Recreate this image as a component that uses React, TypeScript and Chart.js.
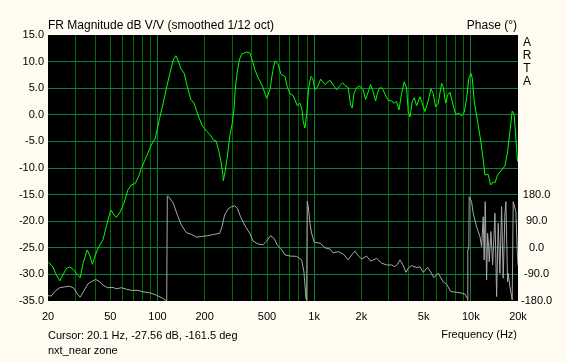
import React, { useEffect, useRef } from 'react';
import { Chart, registerables } from 'chart.js';

Chart.register(...registerables);

// ---- Data ----
const magFreq = [
  20, 21.5, 22.6, 23.8, 24.9, 26.2, 27.5, 28.9, 30.8, 32.1, 33.5, 35.6, 36.9, 38.4, 39.7, 41.7, 44.9, 47.1,
  50.3, 52.0, 54.6, 57.4, 61.1, 64.8, 68.0, 72.1, 75.8, 78.8, 84.8, 91.2, 96.8, 103, 108, 114, 120, 126,
  131, 135, 141, 148, 155, 163, 171, 181, 192, 206, 216, 227, 236, 244, 253, 261, 263, 270, 279, 290, 300,
  308, 314, 323, 333, 344, 371, 389, 405, 419, 440, 469, 497, 522, 543, 562, 590, 614, 651, 673, 701, 735,
  780, 811, 836, 852, 873, 895, 922, 954, 978, 1011, 1046, 1100, 1171, 1261, 1323, 1391, 1460, 1520, 1572,
  1650, 1709, 1750, 1794, 1867, 1959, 2056, 2130, 2213, 2293, 2381, 2468, 2541, 2628, 2718, 2829, 2969,
  3121, 3243, 3360, 3476, 3616, 3757, 3892, 3985, 4086, 4226, 4352, 4508, 4732, 4852, 5093, 5298, 5562,
  5752, 5960, 6192, 6508, 6663, 6902, 7108, 7352, 7606, 7996, 8394, 8732, 9072, 9397, 9722, 10012, 10206,
  10510, 11048, 11596, 11996, 12300, 12908, 13370, 13892, 14244, 14820, 15716, 16496, 17164, 17754, 18366,
  18912, 19590, 19880,
];
const magDb = [
  -27.6, -28.6, -30.1, -31.2, -30.1, -28.9, -28.6, -29.0, -30.1, -30.6, -27.9, -25.4, -26.4, -28.1, -26.7, -25.1, -23.5, -21.0,
  -17.9, -18.5, -19.3, -18.4, -16.6, -14.1, -13.2, -12.9, -11.6, -10.1, -7.9, -5.7, -4.4, -0.7, 1.8, 5.0, 7.8, 10.3,
  11.1, 10.3, 8.7, 7.8, 5.3, 2.9, 2.2, 0.0, -1.9, -3.1, -3.7, -4.7, -4.9, -6.3, -8.5, -11.0, -12.4, -10.7, -7.9, -3.8, -1.6,
  1.2, 5.0, 8.1, 10.3, 11.4, 11.8, 11.6, 10.0, 8.4, 6.9, 5.3, 3.1, 4.7, 8.1, 10.1, 9.4, 7.6, 7.2, 5.3, 3.9, 3.6,
  1.7, 2.2, 0.9, -1.3, -2.5, 0.0, 5.0, 7.2, 6.9, 4.7, 5.1, 6.7, 5.7, 6.5, 5.6, 4.7, 5.5, 6.0, 5.5,
  5.1, 1.8, 1.3, 4.0, 5.1, 5.4, 4.7, 2.9, 4.3, 5.7, 4.3, 2.6, 4.2, 5.1, 5.0, 3.9, 2.7,
  2.6, 2.2, 2.5, 0.9, 4.0, 6.2, 5.0, 0.6, -0.4, 2.5, 3.2, 1.7, 3.4, 2.5, 0.6, 2.2, 4.9,
  4.0, 1.5, 2.2, 5.9, 5.3, 2.2, 3.7, 4.3, 2.5, 0.1, 0.3, -0.2, 0.5, 3.1, 6.9, 7.8, 6.9,
  2.5, -1.3, -5.1, -8.5, -11.3, -11.2, -13.2, -12.6, -12.8, -11.3, -10.4, -9.6, -6.9, -3.2, 0.7,
  0.0, -6.3, -8.8,
];

const phaseFreq = [
  20, 21.0, 22.3, 23.8, 25.6, 27.5, 29.3, 30.8, 32.1, 33.9, 36.0, 37.8, 40.3, 42.8, 44.9, 47.8, 52.0, 54.6,
  58.7, 63.2, 68.0, 75.1, 80.8, 89.1, 98.2, 108, 114.5, 115.5, 117.8, 126, 134, 142, 153, 164, 177, 190,
  210, 232, 249, 258, 268, 282, 296, 311, 323, 339, 360, 388, 407, 438, 471, 494, 527, 554, 581, 616, 651,
  701, 773, 832, 860, 873, 886, 895, 903, 917, 940, 963, 1001, 1100, 1171, 1261, 1323, 1424, 1533, 1650,
  1734, 1821, 1911, 2009, 2162, 2293, 2504, 2696, 2900, 3121, 3277, 3440, 3526, 3668, 3852, 3985, 4188,
  4508, 4732, 4966, 5298, 5481, 5813, 6192, 6663, 7005, 7431, 7914, 8518, 9167, 9482, 9550, 9580, 9700,
  9764, 10115, 10355, 10886, 11428, 11716, 11996, 12172, 12352, 12608, 12796, 12986, 13100, 13432, 13772,
  14038, 14246, 14606, 14952, 15330, 15716, 16092, 16496, 16742, 17164, 17320, 17754, 18366, 18640, 19392,
  19766, 20000,
];
const phaseDeg = [
  -162, -163, -146, -135, -132, -130, -137, -156, -167, -146, -122, -115, -107, -115, -126, -135, -134, -139,
  -135, -140, -144, -144, -149, -152, -160, -171, -180, 175, 173, 151, 111, 77, 51, 46, 36, 38,
  41, 46, 49, 71, 111, 131, 139, 142, 134, 105, 77, 49, 23, 13, 10, 21, 41, 32, 10, -4, -24,
  -28, -29, -41, -81, -126, -171, -178, 158, 139, 83, 49, 19, 15, 0, -4, -17, -13, -21, -41,
  -24, -11, -27, -38, -28, -45, -36, -52, -58, -58, -64, -52, -41, -55, -83, -69, -60,
  -67, -64, -83, -66, -78, -101, -86, -115, -123, -148, -150, -152, -157, -171, -178, -5, -5,
  173, 156, 117, 71, 38, 4, 105, -41, 156, -109, 49, 4, -47, 55, -58,
  32, 117, -165, 83, -86, 139, -103, 111, 156, -115, -86, -131, -176, 156, 122,
  -7, -60,
];

const xGridValues = [
  20, 30, 40, 50, 60, 70, 80, 90, 100, 200, 300, 400, 500, 600, 700, 800, 900,
  1000, 2000, 3000, 4000, 5000, 6000, 7000, 8000, 9000, 10000, 20000,
];
const xLabelValues = [20, 50, 100, 200, 500, 1000, 2000, 5000, 10000, 20000];
const decadeValues = [100, 1000, 10000];
const phaseLabelValues = [-180, -90, 0, 90, 180];

const titleText = 'FR Magnitude dB V/V (smoothed 1/12 oct)';
const phaseTitle = 'Phase (°)';
const brandLetters = ['A', 'R', 'T', 'A'];
const cursorText = 'Cursor: 20.1 Hz, -27.56 dB, -161.5 deg';
const noteText = 'nxt_near zone';
const xTitle = 'Frequency (Hz)';

// ---- Styles ----
const FONT = "'Liberation Sans', Arial, sans-serif";
const BG = '#FFFBF0';
const PLOT_BG = '#000000';
const GRID_MAIN = '#0A8040';
const GRID_MINOR = '#006A00';
const MAG_COLOR = '#00FF00';
const PHASE_COLOR = '#A8A8A8';

function fmtFreq(v: number): string {
  return v >= 1000 ? `${v / 1000}k` : `${v}`;
}

export default function App() {
  const ref = useRef<HTMLCanvasElement>(null);

  useEffect(() => {
    document.body.style.margin = '0';
    document.body.style.background = BG;
    const canvas = ref.current;
    if (!canvas) return;

    const overlay = {
      id: 'artaOverlay',
      beforeDraw(chart: any) {
        const { ctx, chartArea: a, width, height } = chart;
        ctx.save();
        ctx.fillStyle = BG;
        ctx.fillRect(0, 0, width, height);
        ctx.fillStyle = PLOT_BG;
        ctx.fillRect(a.left, a.top, a.right - a.left, a.bottom - a.top);
        ctx.restore();
      },
      afterDraw(chart: any) {
        const { ctx, chartArea: a } = chart;
        ctx.save();
        ctx.fillStyle = '#000';
        ctx.font = `12px ${FONT}`;
        ctx.textBaseline = 'alphabetic';
        ctx.textAlign = 'left';
        ctx.fillText(titleText, a.left, 29);
        ctx.textAlign = 'right';
        ctx.fillText(phaseTitle, a.right - 1, 29);
        ctx.textAlign = 'center';
        ctx.textBaseline = 'middle';
        brandLetters.forEach((ch, i) => ctx.fillText(ch, a.right + 9, 43 + i * 12.8));
        ctx.font = `11px ${FONT}`;
        ctx.textBaseline = 'alphabetic';
        ctx.textAlign = 'left';
        ctx.fillText(cursorText, a.left, 338.5);
        ctx.fillText(noteText, a.left, 354);
        ctx.textAlign = 'right';
        ctx.fillText(xTitle, a.right - 1, 338);
        ctx.restore();
      },
    };

    const chart = new Chart(canvas, {
      type: 'line',
      data: {
        datasets: [
          {
            data: magFreq.map((f, i) => ({ x: f, y: magDb[i] })),
            borderColor: MAG_COLOR,
            borderWidth: 1,
            pointRadius: 0,
            tension: 0,
            yAxisID: 'y',
          },
          {
            data: phaseFreq.map((f, i) => ({ x: f, y: phaseDeg[i] })),
            borderColor: PHASE_COLOR,
            borderWidth: 1,
            pointRadius: 0,
            tension: 0,
            yAxisID: 'y2',
          },
        ],
      },
      options: {
        animation: false,
        responsive: false,
        events: [],
        layout: { padding: { top: 35, left: 0, right: 0, bottom: 0 } },
        plugins: {
          legend: { display: false },
          title: { display: false },
          tooltip: { enabled: false },
        },
        scales: {
          x: {
            type: 'logarithmic',
            min: 20,
            max: 20000,
            afterBuildTicks: (s: any) => {
              s.ticks = xGridValues.map((v) => ({ value: v }));
            },
            afterFit: (s: any) => {
              s.height = 61;
            },
            ticks: {
              autoSkip: false,
              maxRotation: 0,
              minRotation: 0,
              padding: 9,
              color: '#000',
              font: { family: FONT, size: 11 },
              callback: (v: any) => (xLabelValues.includes(Number(v)) ? fmtFreq(Number(v)) : ''),
            },
            grid: {
              drawTicks: false,
              lineWidth: 1,
              color: (c: any) => {
                const v = c.tick ? c.tick.value : 0;
                if (v <= 20 || v >= 20000) return 'rgba(0,0,0,0)';
                return decadeValues.includes(v) ? GRID_MAIN : GRID_MINOR;
              },
            },
            border: { display: false },
          },
          y: {
            position: 'left',
            min: -35,
            max: 15,
            afterFit: (s: any) => {
              s.width = 48;
            },
            ticks: {
              stepSize: 5,
              padding: 4,
              color: '#000',
              font: { family: FONT, size: 11 },
              callback: (v: any) => Number(v).toFixed(1),
            },
            grid: {
              drawTicks: false,
              lineWidth: 1,
              color: (c: any) => {
                const v = c.tick ? c.tick.value : 0;
                return v >= 15 || v <= -35 ? 'rgba(0,0,0,0)' : GRID_MAIN;
              },
            },
            border: { display: false },
          },
          y2: {
            position: 'right',
            min: -180,
            max: 720,
            afterFit: (s: any) => {
              s.width = 48;
            },
            ticks: {
              stepSize: 90,
              padding: 3,
              crossAlign: 'center',
              color: '#000',
              font: { family: FONT, size: 11 },
              callback: (v: any) => (phaseLabelValues.includes(Number(v)) ? Number(v).toFixed(1) : ''),
            },
            grid: { display: false, drawTicks: false },
            border: { display: false },
          },
        },
      } as any,
      plugins: [overlay],
    });

    return () => chart.destroy();
  }, []);

  return (
    <div style={{ position: 'absolute', left: 0, top: 0, width: 566, height: 362, background: BG }}>
      <canvas ref={ref} width={566} height={362} style={{ display: 'block', width: 566, height: 362 }} />
    </div>
  );
}
